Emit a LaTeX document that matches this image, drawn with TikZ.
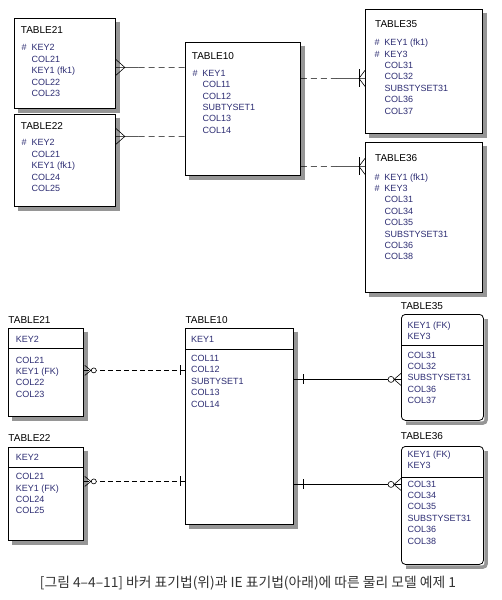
\documentclass[tikz,border=0pt]{standalone}
\usepackage{fontspec}
\setmainfont{Liberation Sans}
\newfontfamily\krfont{Noto Sans CJK KR}
\usetikzlibrary{positioning,calc}
\definecolor{attrblue}{RGB}{45,45,115}
\definecolor{shadowgray}{RGB}{150,150,150}
\newcommand{\pkmark}{\makebox[10pt][l]{\#}}
\newcommand{\colpad}{\makebox[10pt]{}}
\tikzstyle{ent} = [draw, line width=0.8pt, fill=white, anchor=north west, inner sep=0pt]
\tikzstyle{shadowline} = [draw=shadowgray, line width=3.5pt]
\tikzstyle{ttl} = [anchor=north west, inner sep=0pt, font=\fontsize{10}{12}\selectfont]
\tikzstyle{cols} = [anchor=north west, inner sep=0pt, align=left, text=attrblue, font=\fontsize{9}{11.4}\selectfont]
\tikzstyle{rel} = [line width=0.6pt]

\begin{document}
\begin{tikzpicture}[x=1pt,y=1pt]
    \useasboundingbox (0,0) rectangle (501,-600);
    % Barker notation (top)
    \node (t21) [ent, minimum width=101, minimum height=90] at (14,-18) {};
    \node (t21n) [ttl] at (20.7,-26) {TABLE21};
    \node (t21c) [cols] at (21.5,-44.5) {\pkmark KEY2\\ \colpad COL21\\ \colpad KEY1 (fk1)\\ \colpad COL22\\ \colpad COL23};
    \node (t22) [ent, minimum width=101, minimum height=92] at (14,-114) {};
    \node (t22n) [ttl] at (20.7,-122.7) {TABLE22};
    \node (t22c) [cols] at (21.5,-139.5) {\pkmark KEY2\\ \colpad COL21\\ \colpad KEY1 (fk1)\\ \colpad COL24\\ \colpad COL25};
    \node (t10) [ent, minimum width=115, minimum height=133] at (185,-42) {};
    \node (t10n) [ttl] at (191.7,-52.7) {TABLE10};
    \node (t10c) [cols] at (192.3,-70) {\pkmark KEY1\\ \colpad COL11\\ \colpad COL12\\ \colpad SUBTYSET1\\ \colpad COL13\\ \colpad COL14};
    \node (t35) [ent, minimum width=117, minimum height=124] at (365,-9) {};
    \node (t35n) [ttl] at (375,-20) {TABLE35};
    \node (t35c) [cols] at (374.3,-39) {\pkmark KEY1 (fk1)\\ \pkmark KEY3\\ \colpad COL31\\ \colpad COL32\\ \colpad SUBSTYSET31\\ \colpad COL36\\ \colpad COL37};
    \node (t36) [ent, minimum width=117, minimum height=150] at (365,-142) {};
    \node (t36n) [ttl] at (375,-154) {TABLE36};
    \node (t36c) [cols] at (374.3,-173.3) {\pkmark KEY1 (fk1)\\ \pkmark KEY3\\ \colpad COL31\\ \colpad COL34\\ \colpad COL35\\ \colpad SUBSTYSET31\\ \colpad COL36\\ \colpad COL38};

    % IE notation (bottom)
    \node (u21) [ent, minimum width=75, minimum height=88] at (8,-328) {};
    \node (u21n) [ttl] at (8.3,-316.7) {TABLE21};
    \node (u21k) [cols] at (15.7,-336) {KEY2};
    \node (u21c) [cols] at (15.7,-356.7) {COL21\\ KEY1 (FK)\\ COL22\\ COL23};
    \node (u22) [ent, minimum width=75, minimum height=93] at (8,-447) {};
    \node (u22n) [ttl] at (8.3,-434) {TABLE22};
    \node (u22k) [cols] at (15.7,-454) {KEY2};
    \node (u22c) [cols] at (15.7,-473.3) {COL21\\ KEY1 (FK)\\ COL24\\ COL25};
    \node (u10) [ent, minimum width=108, minimum height=196] at (185,-328) {};
    \node (u10n) [ttl] at (185.3,-316.7) {TABLE10};
    \node (u10k) [cols] at (191,-336) {KEY1};
    \node (u10c) [cols] at (191,-355) {COL11\\ COL12\\ SUBTYSET1\\ COL13\\ COL14};
    \node (u35) [ent, rounded corners=4pt, minimum width=82, minimum height=106] at (401,-314) {};
    \node (u35n) [ttl] at (400.7,-302.7) {TABLE35};
    \node (u35k) [cols] at (407.3,-321.7) {KEY1 (FK)\\ KEY3};
    \node (u35c) [cols] at (407.3,-351.7) {COL31\\ COL32\\ SUBSTYSET31\\ COL36\\ COL37};
    \node (u36) [ent, rounded corners=4pt, minimum width=82, minimum height=118] at (401,-446) {};
    \node (u36n) [ttl] at (400.7,-432.7) {TABLE36};
    \node (u36k) [cols] at (407.3,-450.7) {KEY1 (FK)\\ KEY3};
    \node (u36c) [cols] at (407.3,-480.7) {COL31\\ COL34\\ COL35\\ SUBSTYSET31\\ COL36\\ COL38};
    % key dividers
    \draw ([yshift=-20pt]u21.north west) -- ([yshift=-20pt]u21.north east);
    \draw ([yshift=-20pt]u22.north west) -- ([yshift=-20pt]u22.north east);
    \draw ([yshift=-21pt]u10.north west) -- ([yshift=-21pt]u10.north east);
    \draw ([yshift=-31pt]u35.north west) -- ([yshift=-31pt]u35.north east);
    \draw ([yshift=-31pt]u36.north west) -- ([yshift=-31pt]u36.north east);
    % shadows
    \foreach \n in {t21,t22,t10,t35,t36,u21,u22,u10}
        \draw[shadowline] ($(\n.north east)+(2.2,-3.5)$) -- ($(\n.south east)+(2.2,-2.2)$) -- ($(\n.south west)+(3.5,-2.2)$);
    \foreach \n in {u35,u36}
        \draw[shadowline, rounded corners=3pt] ($(\n.north east)+(2.2,-5)$) -- ($(\n.south east)+(2.2,-2.2)$) -- ($(\n.south west)+(5,-2.2)$);

    % Barker relationships
    \coordinate (a1) at ([yshift=-4pt]t21.east);
    \coordinate (b1) at (a1 -| t10.west);
    \draw[rel] (a1) -- ($(a1)!.33!(b1)$);
    \draw[rel, dash pattern=on 6pt off 4pt] ($(a1)!.33!(b1)$) -- (b1);
    \draw[rel] (a1) ++(0,8) -- ++(9,-8) -- ++(-9,-8);
    \coordinate (a2) at ([yshift=24pt]t22.east);
    \coordinate (b2) at (a2 -| t10.west);
    \draw[rel] (a2) -- ($(a2)!.33!(b2)$);
    \draw[rel, dash pattern=on 6pt off 4pt] ($(a2)!.33!(b2)$) -- (b2);
    \draw[rel] (a2) ++(0,8) -- ++(9,-8) -- ++(-9,-8);
    \coordinate (a3) at ([yshift=30.5pt]t10.east);
    \coordinate (b3) at (a3 -| t35.west);
    \draw[rel, dash pattern=on 6pt off 4pt] (a3) -- ($(a3)!.55!(b3)$);
    \draw[rel] ($(a3)!.55!(b3)$) -- (b3);
    \draw[rel] (b3) ++(0,8) -- ++(-6,-8) -- ++(6,-8);
    \draw[rel] (b3) ++(-6,9) -- ++(0,-18);
    \coordinate (a4) at ([yshift=-57.5pt]t10.east);
    \coordinate (b4) at (a4 -| t36.west);
    \draw[rel, dash pattern=on 6pt off 4pt] (a4) -- ($(a4)!.55!(b4)$);
    \draw[rel] ($(a4)!.55!(b4)$) -- (b4);
    \draw[rel] (b4) ++(0,8) -- ++(-6,-8) -- ++(6,-8);
    \draw[rel] (b4) ++(-6,9) -- ++(0,-18);

    % IE relationships
    \coordinate (a5) at ([yshift=2pt]u21.east);
    \coordinate (b5) at (a5 -| u10.west);
    \draw[rel, dash pattern=on 5pt off 3pt] (a5) -- (b5);
    \draw[rel] (a5) ++(1,5) -- ++(6,-5) -- ++(-6,-5);
    \draw[rel, fill=white] ($(a5)+(10,0)$) circle (2.5);
    \draw[rel] ($(b5)+(-5,5)$) -- ++(0,-10);
    \coordinate (a6) at ([yshift=12.5pt]u22.east);
    \coordinate (b6) at (a6 -| u10.west);
    \draw[rel, dash pattern=on 5pt off 3pt] (a6) -- (b6);
    \draw[rel] (a6) ++(1,5) -- ++(6,-5) -- ++(-6,-5);
    \draw[rel, fill=white] ($(a6)+(10,0)$) circle (2.5);
    \draw[rel] ($(b6)+(-5,5)$) -- ++(0,-10);
    \coordinate (a7) at ([yshift=-12pt]u35.west);
    \coordinate (b7) at (a7 -| u10.east);
    \draw[rel] (b7) -- (a7);
    \draw[rel] ($(b7)+(9,5)$) -- ++(0,-10);
    \draw[rel] (a7) ++(0,6) -- ++(-7,-6) -- ++(7,-6);
    \draw[rel, fill=white] ($(a7)+(-10,0)$) circle (3);
    \coordinate (a8) at ([yshift=21pt]u36.west);
    \coordinate (b8) at (a8 -| u10.east);
    \draw[rel] (b8) -- (a8);
    \draw[rel] ($(b8)+(9,5)$) -- ++(0,-10);
    \draw[rel] (a8) ++(0,6) -- ++(-7,-6) -- ++(7,-6);
    \draw[rel, fill=white] ($(a8)+(-10,0)$) circle (3);

    % caption
    \node (cap) [font=\krfont\fontsize{13.8}{16}\selectfont, text=black!80] at (248,-583) {[그림 4–4–11] 바커 표기법(위)과 IE 표기법(아래)에 따른 물리 모델 예제 1};
\end{tikzpicture}
\end{document}
